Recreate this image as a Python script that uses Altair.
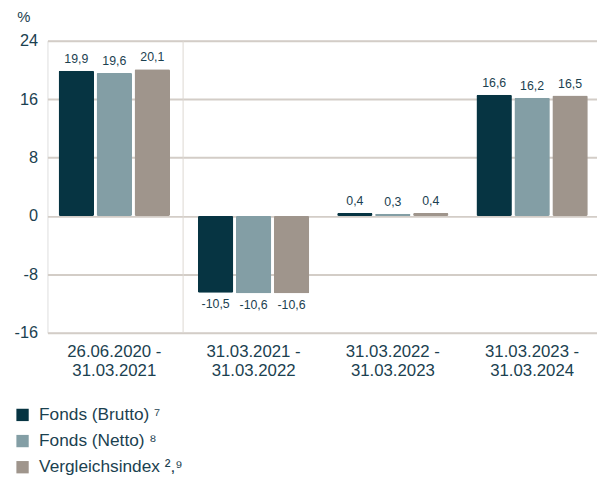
import altair as alt
import pandas as pd

periods = [
    "26.06.2020 - 31.03.2021",
    "31.03.2021 - 31.03.2022",
    "31.03.2022 - 31.03.2023",
    "31.03.2023 - 31.03.2024",
]
series = ["Fonds (Brutto) ⁷", "Fonds (Netto) ⁸", "Vergleichsindex ²,⁹"]
brutto = [19.9, -10.5, 0.4, 16.6]
netto = [19.6, -10.6, 0.3, 16.2]
vergleich = [20.1, -10.6, 0.4, 16.5]
colors = ["#063442", "#839ea5", "#9f958c"]
y_ticks = [-16, -8, 0, 8, 16, 24]

rows = []
for s, vals in zip(series, [brutto, netto, vergleich]):
    for p, v in zip(periods, vals):
        rows.append({"period": p, "series": s, "value": v})
df = pd.DataFrame(rows)

TEXT = "#1b4150"
FONT = "Liberation Sans"

x_axis = alt.Axis(
    domain=False, ticks=False, grid=False, labelAngle=0,
    labelFontSize=17, labelColor=TEXT, labelFont=FONT,
    labelPadding=11, labelAlign="center",
    labelBaseline="top",
    labelExpr="[split(datum.label, ' - ')[0] + ' -', split(datum.label, ' - ')[1] + '\u00a0\u00a0']",
)
x_scale = alt.Scale(paddingInner=0.2, paddingOuter=0.08, range=[0, 559])
x = alt.X("period:N", sort=periods, title=None, scale=x_scale, axis=x_axis)

y = alt.Y(
    "value:Q", title="%",
    scale=alt.Scale(domain=[-16, 24], nice=False, zero=False),
    axis=alt.Axis(
        values=y_ticks, domain=False, ticks=False, grid=True,
        gridColor="#d3cdc7", gridWidth=2,
        labelFontSize=16.5, labelColor=TEXT, labelFont=FONT, labelPadding=10,
        labelExpr="datum.value < 0 ? '-' + abs(datum.value) : '' + datum.value",
        titleAngle=0, titleX=-31, titleY=-20, titleAlign="left",
        titleBaseline="alphabetic", titleFontSize=15, titleFont=FONT,
        titleColor=TEXT, titleFontWeight="normal",
    ),
)
xoff = alt.XOffset("series:N", sort=series, scale=alt.Scale(paddingInner=0.065, paddingOuter=0))

base = alt.Chart(df)

bars = base.mark_bar(cornerRadius=1.5).encode(
    x=x, xOffset=xoff, y=y,
    color=alt.Color(
        "series:N", sort=series,
        scale=alt.Scale(domain=series, range=colors),
        legend=alt.Legend(
            title=None, orient="none", legendX=-34, legendY=370.5,
            direction="vertical", symbolType="square", symbolSize=156,
            symbolStrokeWidth=0, labelFontSize=17.5, labelFont=FONT,
            labelColor=TEXT, labelOffset=8, rowPadding=7.5, padding=0,
            labelLimit=400,
        ),
    ),
)

lbl = "(datum.value < 0 ? '-' : '') + replace(format(abs(datum.value), '.1f'), '.', ',')"

pos_text = base.transform_filter("datum.value >= 0").transform_calculate(lbl=lbl).mark_text(
    baseline="alphabetic", dy=-8, fontSize=12.5, color=TEXT, font=FONT
).encode(x=x, xOffset=xoff, y=y, text="lbl:N")

neg_text = base.transform_filter("datum.value < 0").transform_calculate(lbl=lbl).mark_text(
    baseline="alphabetic", dy=16, fontSize=12.5, color=TEXT, font=FONT
).encode(x=x, xOffset=xoff, y=y, text="lbl:N")

# thin separator line seen in the reference between the first two periods
rule = alt.Chart(pd.DataFrame({"period": [periods[1]]})).mark_rule(
    color="#dcd7d2", strokeWidth=1
).encode(x=alt.value(137.5))

chart = alt.layer(rule, bars, pos_text, neg_text).properties(
    width=557, height=296,
    autosize=alt.AutoSizeParams(type="none"),
    padding={"left": 40, "top": 30, "right": 0, "bottom": 145},
).configure_view(stroke="transparent").configure(background="white")

chart.save("out.html", embed_options={"renderer": "svg", "actions": False})
